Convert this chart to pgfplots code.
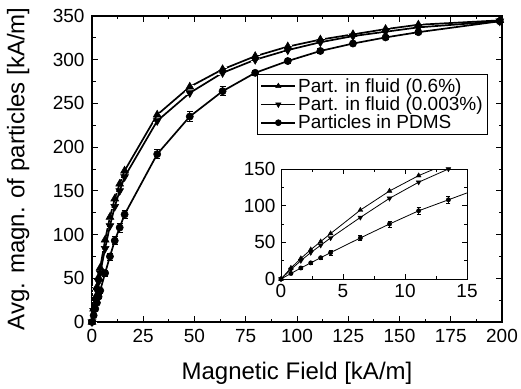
\documentclass[border=0pt]{standalone}
\usepackage{pgfplots}
\usepackage{pgfplotstable}
\pgfplotsset{compat=1.18}
\usepackage{fontspec}
\setmainfont{Liberation Sans}
\pgfplotstableread{
H     up   dn   pd     eu  ep
0     0    0    0      0   0
0.8   15   13   7.5    1   1.5
1.6   28   25   15     1.5 2
2.4   40   36   22     1.5 2
3.2   51   46   29     2   2.5
4.0   62   56   36     2   3
6.4   94   84   56     2   3.5
8.75  120  110  75     2   4
11.1  141  132  93     2   4.5
13.5  158  150  108    2   5
15.9  173  166  123    2   5
31.8  237  230  192    2   5
47.7  269  262  235    2   6
63.7  289  285  264    2   5
79.6  304  300  285    2   3
95.5  315  311  298.5  2   3
111.4 323  320  310    2   3
127.3 329  327  318.5  2   2
143.2 335  332  325.5  2   2
159.2 340  337  331.5  2   2
198.9 345  344  344    2   2
}\data
\begin{document}
\begin{tikzpicture}
\useasboundingbox (0,0) rectangle (521pt,388pt);
\begin{axis}[
  at={(92pt,66pt)}, anchor=south west,
  scale only axis, width=410pt, height=306pt,
  xmin=0, xmax=200, ymin=0, ymax=350,
  xtick={0,25,...,200}, ytick={0,50,...,350},
  minor x tick num=1, minor y tick num=1,
  tick align=inside, major tick length=6pt, minor tick length=3.5pt,
  axis line style={line width=1.2pt},
  every tick/.style={line width=0.9pt, black},
  xlabel={Magnetic Field [kA/m]},
  ylabel={Avg. magn. of particles [kA/m]},
  tick label style={font=\fontsize{19}{22}\selectfont},
  xticklabel style={yshift=-4pt},
  yticklabel style={xshift=-4pt},
  /pgf/number format/assume math mode=true,
  every axis x label/.style={at={(axis description cs:0.5,-0.167)}, anchor=center, font=\fontsize{24}{28}\selectfont},
  every axis y label/.style={at={(axis description cs:-0.18,0.5)}, anchor=center, rotate=90, font=\fontsize{24}{28}\selectfont},
  legend style={at={(0.966,0.810)}, anchor=north east, draw=black, line width=0.8pt,
    font=\fontsize{19}{22}\selectfont, row sep=-1pt, inner xsep=3pt, inner ysep=2pt,
    cells={anchor=west}},
  legend image code/.code={\draw[mark repeat=2, mark phase=2, #1, mark size=3pt] plot coordinates {(0pt,0pt) (17pt,0pt) (34pt,0pt)};},
]
\addplot[black, line width=1.7pt, mark=triangle*, mark size=4.5pt, mark options={solid, fill=black, line width=0.6pt},
  error bars/.cd, y dir=both, y explicit, error bar style={line width=0.7pt, white}]
  table[x=H, y=up, y error=eu] {\data};
\addlegendentry{Part. in fluid (0.6\%)}
\addplot[black, line width=1.7pt, mark=triangle*, mark size=4.5pt, mark options={solid, fill=black, line width=0.6pt, rotate=180},
  error bars/.cd, y dir=both, y explicit, error bar style={line width=0.7pt, white}]
  table[x=H, y=dn, y error=eu] {\data};
\addlegendentry{Part. in fluid (0.003\%)}
\addplot[black, line width=1.7pt, mark=*, mark size=3.6pt, mark options={solid, fill=black, line width=0.6pt},
  error bars/.cd, y dir=both, y explicit, error bar style={line width=0.7pt}, error mark options={rotate=90, mark size=3pt, line width=0.7pt}]
  table[x=H, y=pd, y error=ep] {\data};
\addlegendentry{Particles in PDMS}
\end{axis}
\begin{axis}[
  at={(281pt,109pt)}, anchor=south west,
  scale only axis, width=186pt, height=110pt,
  xmin=0, xmax=15, ymin=0, ymax=150,
  xtick={0,5,10,15}, ytick={0,50,100,150},
  minor x tick num=1, minor y tick num=1,
  tick align=inside, major tick length=5pt, minor tick length=3pt,
  axis line style={line width=1pt},
  every tick/.style={line width=0.8pt, black},
  tick label style={font=\fontsize{19}{22}\selectfont},
  xticklabel style={yshift=-2pt},
  yticklabel style={xshift=-2pt},
  /pgf/number format/assume math mode=true,
  axis background/.style={fill=white},
]
\addplot[black, line width=0.8pt, mark=triangle*, mark size=2.8pt, mark options={solid, fill=black, line width=0.4pt}]
  table[x=H, y=up] {\data};
\addplot[black, line width=0.8pt, mark=triangle*, mark size=2.8pt, mark options={solid, fill=black, line width=0.4pt, rotate=180}]
  table[x=H, y=dn] {\data};
\addplot[black, line width=0.8pt, mark=*, mark size=2.2pt, mark options={solid, fill=black, line width=0.4pt},
  error bars/.cd, y dir=both, y explicit, error bar style={line width=0.6pt}, error mark options={rotate=90, mark size=2pt, line width=0.6pt}]
  table[x=H, y=pd, y error=ep] {\data};
\end{axis}
\end{tikzpicture}
\end{document}
